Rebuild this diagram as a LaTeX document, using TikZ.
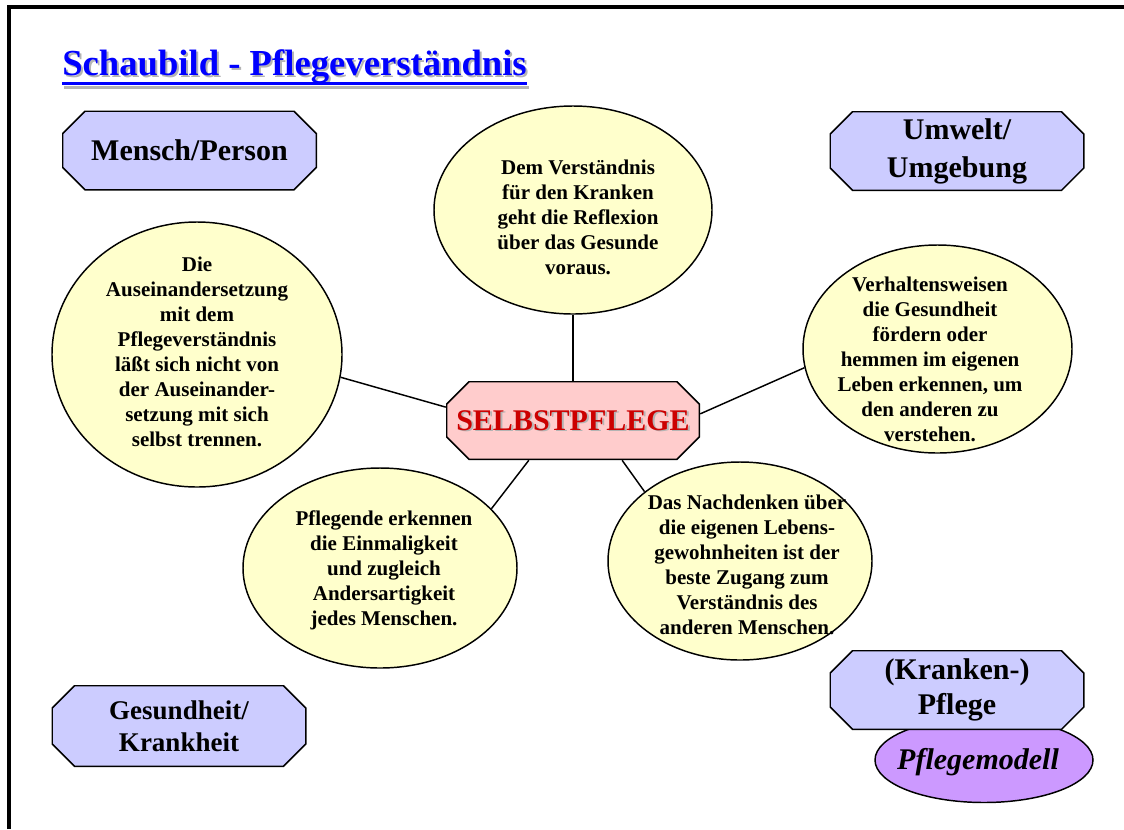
\documentclass[tikz,border=0pt]{standalone}
\usepackage{fontspec}
\setmainfont{Liberation Serif}
\usepackage{tikz}
\usetikzlibrary{shapes.geometric}

\definecolor{lavender}{RGB}{204,204,255}
\definecolor{paleyellow}{RGB}{255,255,204}
\definecolor{palepink}{RGB}{255,204,204}
\definecolor{lilac}{RGB}{204,153,255}
\definecolor{titleblue}{RGB}{0,0,255}
\definecolor{shadowgray}{RGB}{180,180,180}
\definecolor{selfred}{RGB}{204,0,0}

\newcommand{\octc}{17.25pt}
\newcommand{\octi}{0.55pt}

\begin{document}
\begin{tikzpicture}[
    x=0.75pt, y=-0.75pt,
    octbox/.style={rectangle, minimum width=191.25pt, minimum height=60pt,
                   inner sep=0pt, align=center,
                   font=\bfseries\fontsize{22.5}{24}\selectfont,
                   path picture={
                     \draw[fill=#1, line width=1.1pt]
                       ([shift={(\octc,-\octi)}]path picture bounding box.north west)
                    -- ([shift={(-\octc,-\octi)}]path picture bounding box.north east)
                    -- ([shift={(-\octi,-\octc)}]path picture bounding box.north east)
                    -- ([shift={(-\octi,\octc)}]path picture bounding box.south east)
                    -- ([shift={(-\octc,\octi)}]path picture bounding box.south east)
                    -- ([shift={(\octc,\octi)}]path picture bounding box.south west)
                    -- ([shift={(\octi,\octc)}]path picture bounding box.south west)
                    -- ([shift={(\octi,-\octc)}]path picture bounding box.north west)
                    -- cycle;}},
    octbox/.default=lavender,
    bubble/.style={ellipse, draw, line width=1.1pt, fill=paleyellow, inner sep=0pt},
    bubtext/.style={align=center, inner sep=0pt,
                    font=\bfseries\fontsize{15.75}{18.75}\selectfont},
    titletxt/.style={anchor=base west, inner sep=0pt,
                     font=\bfseries\fontsize{27.5}{30}\selectfont},
    conn/.style={line width=1.1pt}
  ]
    \useasboundingbox (0,0) rectangle (1124,829);
    \draw[line width=2.7pt] (9,829) -- (9,7) -- (1124,7);

    % title with shadow
    \node[titletxt, text=shadowgray] (titleshadow) at (64,77) {Schaubild - Pflegeverständnis};
    \draw[shadowgray, line width=2.3pt]
      ([yshift=-7.9pt]titleshadow.base west) -- ([yshift=-7.9pt]titleshadow.base east);
    \node[titletxt, text=titleblue] (title) at (62,75) {Schaubild - Pflegeverständnis};
    \draw[titleblue, line width=2.3pt]
      ([yshift=-6.4pt]title.base west) -- ([yshift=-6.4pt]title.base east);

    % corner boxes
    \node[octbox] (mensch) at (189.5,150.5) {Mensch/Person};
    \node[octbox, font=\bfseries\fontsize{22.5}{28.5}\selectfont] (umwelt) at (957,151)
      {Umwelt/\\Umgebung};
    \node[octbox, minimum height=61.5pt, font=\bfseries\fontsize{20.25}{24}\selectfont]
      (gesund) at (179,726) {Gesundheit/\\Krankheit};
    \node[bubble, fill=lilac, minimum width=163.5pt, minimum height=63.75pt] (modell)
      at (984,760) {};
    \node[font=\bfseries\itshape\fontsize{22.5}{24}\selectfont, inner sep=0pt]
      (modelltext) at (978,762) {Pflegemodell};
    \node[octbox, font=\bfseries\fontsize{22.5}{26.25}\selectfont] (pflege) at (957,690)
      {(Kranken-)\\Pflege};

    % centre
    \node[octbox=palepink, minimum width=190.5pt, minimum height=59.25pt]
      (selbst) at (573,420.5) {};
    \node[inner sep=0pt, text=shadowgray, font=\bfseries\fontsize{22.5}{24}\selectfont]
      (selbstshadow) at (575,422) {SELBSTPFLEGE};
    \node[inner sep=0pt, text=selfred, font=\bfseries\fontsize{22.5}{24}\selectfont]
      (selbsttext) at (573,420.5) {SELBSTPFLEGE};

    % bubbles
    \node[bubble, minimum width=208.5pt, minimum height=156pt] (top) at (573,210) {};
    \node[bubtext] (toptext) at (578,217)
      {Dem Verständnis\\für den Kranken\\geht die Reflexion\\über das Gesunde\\voraus.};

    \node[bubble, minimum width=217.5pt, minimum height=198.75pt] (left) at (197,354.5) {};
    \node[bubtext] (lefttext) at (197,352)
      {Die\\Auseinandersetzung\\mit dem\\Pflegeverständnis\\läßt sich nicht von\\der Auseinander-\\setzung mit sich\\selbst trennen.};

    \node[bubble, minimum width=201.75pt, minimum height=156pt] (right) at (937.5,349) {};
    \node[bubtext] (righttext) at (930,359)
      {Verhaltensweisen\\die Gesundheit\\fördern oder\\hemmen im eigenen\\Leben erkennen, um\\den anderen zu\\verstehen.};

    \node[bubble, minimum width=205.5pt, minimum height=150pt] (botleft) at (380,568) {};
    \node[bubtext] (botlefttext) at (384,570)
      {Pflegende erkennen\\die Einmaligkeit\\und zugleich\\Andersartigkeit\\jedes Menschen.};

    \node[bubble, minimum width=198pt, minimum height=148.5pt] (botright) at (740,561) {};
    \node[bubtext] (botrighttext) at (747,565)
      {Das Nachdenken über\\die eigenen Lebens-\\gewohnheiten ist der\\beste Zugang zum\\Verständnis des\\anderen Menschen.};

    \draw[conn] (top) -- (selbst);
    \draw[conn] (left.-9) -- (selbst.174);
    \draw[conn] (right.188) -- (selbst.3);
    \draw[conn] (botleft.28) -- (selbst.222);
    \draw[conn] (botright.144) -- (selbst.-39);
\end{tikzpicture}
\end{document}
